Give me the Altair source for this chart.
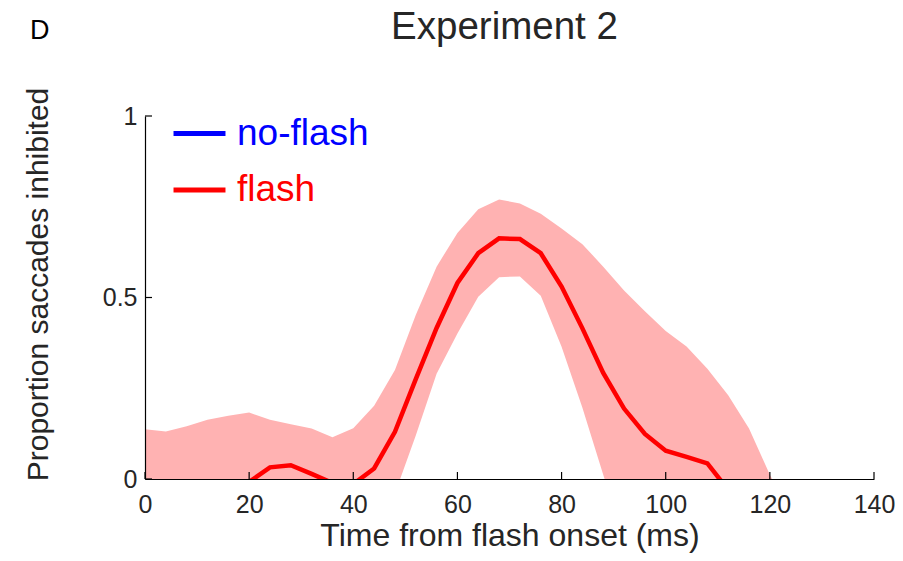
import altair as alt
import pandas as pd

# ---- data ----
time_ms = [0, 4, 8, 12, 16, 20, 24, 28, 32, 36, 40, 44, 48, 52, 56, 60,
           64, 68, 72, 76, 80, 84, 88, 92, 96, 100, 104, 108, 112, 116, 120, 124]
flash_mean = [-0.06, -0.06, -0.06, -0.06, -0.05, -0.008, 0.032, 0.038, 0.014, -0.011, -0.014, 0.029,
              0.130, 0.275, 0.416, 0.540, 0.622, 0.663, 0.661, 0.622, 0.530, 0.415, 0.292, 0.194,
              0.124, 0.078, 0.061, 0.043, -0.03, -0.06, -0.06, -0.06]
flash_upper = [0.137, 0.131, 0.145, 0.163, 0.174, 0.183, 0.163, 0.151, 0.139, 0.115, 0.140, 0.202,
               0.300, 0.452, 0.585, 0.678, 0.743, 0.770, 0.759, 0.731, 0.690, 0.647, 0.585, 0.519,
               0.462, 0.408, 0.365, 0.304, 0.231, 0.139, 0.012, -0.10]
flash_lower = [-0.12, -0.12, -0.11, -0.10, -0.09, -0.09, -0.10, -0.10, -0.11, -0.12, -0.12, -0.10,
               -0.04, 0.12, 0.29, 0.401, 0.502, 0.556, 0.558, 0.505, 0.364, 0.196, 0.012, -0.17,
               -0.30, -0.30, -0.30, -0.30, -0.30, -0.30, -0.30, -0.30]
series_names = ["no-flash", "flash"]
series_colors = ["#0000ff", "#ff0000"]
x_ticks = [0, 20, 40, 60, 80, 100, 120, 140]
y_ticks = [0, 0.5, 1]
panel_label = ["D"]
title_text = ["Experiment 2"]

FONT = "Liberation Sans"
TXT = "#262626"
W, H = 729, 363

df = pd.DataFrame({"t": time_ms, "mean": flash_mean, "upper": flash_upper,
                   "lower": flash_lower})
df["series"] = "flash"

x_scale = alt.Scale(domain=[0, 140], nice=False, zero=False)
y_scale = alt.Scale(domain=[0, 1], nice=False)

x_axis = alt.Axis(values=x_ticks, title="Time from flash onset (ms)", tickSize=0,
                  labelFontSize=25, labelFont=FONT, labelColor=TXT, labelPadding=33,
                  labelBaseline="alphabetic", labelFlush=False,
                  titleFontSize=32, titleFont=FONT, titleColor=TXT, titleFontWeight="normal",
                  titleX=W / 2, titleY=66, titleBaseline="alphabetic", titleAlign="center",
                  domainColor="black", domainWidth=1.2, grid=False, zindex=1)
y_axis = alt.Axis(values=y_ticks, format="~g", title="Proportion saccades inhibited",
                  tickSize=0, labelFontSize=25, labelFont=FONT, labelColor=TXT,
                  labelPadding=8, labelBaseline="middle", labelFlush=False,
                  titleFontSize=30, titleFont=FONT, titleColor=TXT, titleFontWeight="normal",
                  titleX=-107, titleY=168, titleAngle=270, titleBaseline="middle",
                  titleAlign="center",
                  domainColor="black", domainWidth=1.2, grid=False, zindex=1)

band = alt.Chart(df).mark_area(color="#ffb2b2", clip=True).encode(
    x=alt.X("t:Q", scale=x_scale, axis=x_axis),
    y=alt.Y("upper:Q", scale=y_scale, axis=y_axis),
    y2="lower:Q",
)

line = alt.Chart(df).mark_line(strokeWidth=4.5, clip=True).encode(
    x=alt.X("t:Q", scale=x_scale),
    y=alt.Y("mean:Q", scale=y_scale),
    color=alt.Color(
        "series:N",
        scale=alt.Scale(domain=series_names, range=series_colors),
        legend=alt.Legend(
            title=None, orient="none", legendX=26, legendY=-11,
            symbolType="stroke", symbolSize=2700, symbolStrokeWidth=5,
            labelFontSize=37, labelFont=FONT, labelOffset=9, rowPadding=9.5, padding=0,
            labelColor={"expr": "datum.label == 'flash' ? '#ff0000' : '#0000ff'"},
        ),
    ),
)

xt = alt.Chart(pd.DataFrame({"v": x_ticks})).mark_rule(color="black", strokeWidth=1.2).encode(
    x=alt.X("v:Q", scale=x_scale), y=alt.value(H), y2=alt.value(H - 7))
yt = alt.Chart(pd.DataFrame({"v": y_ticks})).mark_rule(color="black", strokeWidth=1.2).encode(
    y=alt.Y("v:Q", scale=y_scale), x=alt.value(0), x2=alt.value(7))

label = alt.Chart(pd.DataFrame({"lab": panel_label})).mark_text(
    font=FONT, fontSize=27, color="black", align="left", baseline="alphabetic"
).encode(text="lab:N", x=alt.value(-115), y=alt.value(-76.7))

title = alt.Chart(pd.DataFrame({"lab": title_text})).mark_text(
    font=FONT, fontSize=38.5, color=TXT, align="center", baseline="alphabetic"
).encode(text="lab:N", x=alt.value(W / 2 - 5), y=alt.value(-76.7))

chart = alt.layer(band, line, xt, yt, label, title).properties(
    width=W, height=H,
    autosize="none",
    padding={"left": 137, "top": 108, "right": 21, "bottom": 74},
).configure(background="white").configure_view(stroke=None)

chart.save("out.html", embed_options={"renderer": "svg", "actions": False})
